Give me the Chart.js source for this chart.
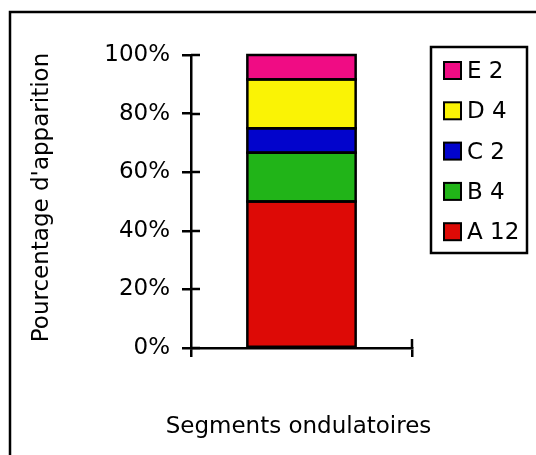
<!DOCTYPE html>
<html><head><meta charset="utf-8">
<script src="https://cdn.jsdelivr.net/npm/chart.js@4.4.0/dist/chart.umd.min.js"></script>
<style>html,body{margin:0;padding:0;background:#fff;}#wrap{position:relative;width:536px;height:455px;}</style>
</head><body><div id="wrap"><canvas id="c" width="536" height="455"></canvas></div>
<script>
const categories = ['Segments ondulatoires'];
const seriesNames = ['A', 'B', 'C', 'D', 'E'];
const seriesCounts = [12, 4, 2, 4, 2];
const seriesColors = ['#DD0A06', '#21B418', '#0204CC', '#FAF305', '#F00C84'];
const yTickValues = [0, 20, 40, 60, 80, 100];
const xTitle = 'Segments ondulatoires';
const yTitle = "Pourcentage d'apparition";

const FONT = {family: "'DejaVu Sans', sans-serif", size: 23};
const LW = 2.5;
const total = seriesCounts.reduce((a, b) => a + b, 0);
const datasets = seriesNames.map((n, i) => ({
  label: n + ' ' + seriesCounts[i],
  data: [seriesCounts[i] / total * 100],
  backgroundColor: seriesColors[i],
  borderWidth: 0,
  inflateAmount: 0,
  categoryPercentage: 1,
  barPercentage: 0.49
}));

const framePlugin = {
  id: 'frame',
  beforeDraw(chart) {
    const ctx = chart.ctx;
    ctx.save();
    ctx.strokeStyle = '#000'; ctx.lineWidth = LW;
    ctx.strokeRect(10, 12, 700, 700);
    ctx.restore();
  }
};

const barOutline = {
  id: 'barOutline',
  afterDatasetsDraw(chart) {
    const ctx = chart.ctx;
    ctx.save();
    ctx.strokeStyle = '#000'; ctx.lineWidth = LW;
    chart.data.datasets.forEach((d, i) => {
      chart.getDatasetMeta(i).data.forEach(el => {
        const {x, y, base, width} = el.getProps(['x', 'y', 'base', 'width'], true);
        ctx.strokeRect(x - width / 2, y, width, base - y);
      });
    });
    ctx.restore();
  }
};

const axisMarks = {
  id: 'axisMarks',
  afterDraw(chart) {
    const {ctx, scales: {x, y}, chartArea} = chart;
    ctx.save();
    ctx.strokeStyle = '#000'; ctx.lineWidth = LW;
    y.ticks.forEach(t => {
      const py = Math.round(y.getPixelForValue(t.value));
      ctx.beginPath(); ctx.moveTo(chartArea.left, py); ctx.lineTo(chartArea.left + 9, py); ctx.stroke();
    });
    const base = Math.round(y.getPixelForValue(0));
    ctx.beginPath(); ctx.moveTo(Math.round(x.right), base); ctx.lineTo(Math.round(x.right), base - 9); ctx.stroke();
    ctx.font = FONT.size + 'px ' + FONT.family;
    ctx.fillStyle = '#000';
    ctx.textAlign = 'center';
    ctx.textBaseline = 'middle';
    // x axis title, centred under the plot area without width squeezing
    ctx.fillText(xTitle, (chartArea.left + chartArea.right) / 2 - 3, 427);
    // y axis title, rotated
    ctx.save();
    ctx.translate(42, (chartArea.top + chartArea.bottom) / 2 - 4);
    ctx.rotate(-Math.PI / 2);
    ctx.fillText(yTitle, 0, 0);
    ctx.restore();
    ctx.restore();
  }
};

const legendPlugin = {
  id: 'boxLegend',
  afterDraw(chart) {
    const ctx = chart.ctx;
    ctx.save();
    ctx.strokeStyle = '#000'; ctx.lineWidth = LW;
    ctx.strokeRect(431, 47, 96, 206);
    ctx.lineWidth = 2;
    ctx.font = FONT.size + 'px ' + FONT.family;
    ctx.textBaseline = 'middle';
    const ds = chart.data.datasets;
    for (let k = 0; k < ds.length; k++) {
      const d = ds[ds.length - 1 - k];
      const cy = 71 + k * 40.3;
      ctx.fillStyle = d.backgroundColor;
      ctx.fillRect(444, cy - 9, 17, 17);
      ctx.strokeRect(444, cy - 9, 17, 17);
      ctx.fillStyle = '#000';
      ctx.fillText(d.label, 467, cy + 1);
    }
    ctx.restore();
  }
};

new Chart(document.getElementById('c'), {
  type: 'bar',
  data: {labels: categories, datasets},
  options: {
    responsive: false,
    animation: false,
    layout: {padding: {left: 0, right: 124, top: 55, bottom: 0}},
    plugins: {legend: {display: false}, tooltip: {enabled: false}},
    scales: {
      x: {
        stacked: true,
        offset: true,
        border: {display: true, color: '#000', width: LW},
        grid: {drawOnChartArea: false, drawTicks: true, tickLength: 9, color: '#000', lineWidth: LW},
        ticks: {display: false},
        title: {display: false, text: xTitle},
        afterFit(s) { s.height = 107; }
      },
      y: {
        stacked: true,
        min: 0, max: 100,
        border: {display: true, color: '#000', width: LW},
        grid: {drawOnChartArea: false, drawTicks: true, tickLength: 9, color: '#000', lineWidth: LW},
        afterBuildTicks(s) { s.ticks = yTickValues.map(v => ({value: v})); },
        ticks: {color: '#000', font: FONT, padding: 12, callback: v => v + '%'},
        title: {display: false, text: yTitle},
        afterFit(s) { s.width = 191; }
      }
    }
  },
  plugins: [framePlugin, barOutline, axisMarks, legendPlugin]
});
</script>
</body></html>
